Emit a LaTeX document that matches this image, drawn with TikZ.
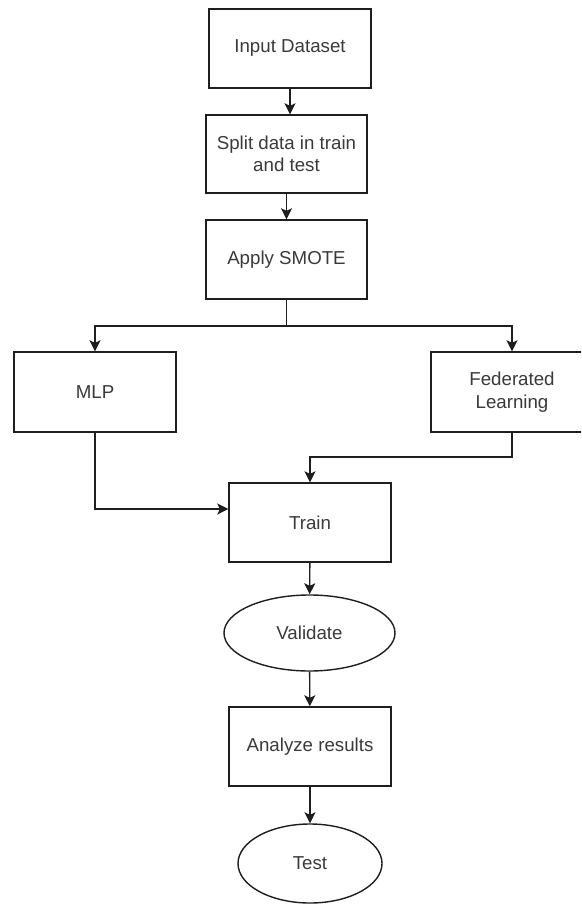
\documentclass[tikz,border=0pt]{standalone}
\usepackage{fontspec}
\setmainfont{Liberation Sans}
\usetikzlibrary{arrows.meta,shapes.geometric}
\definecolor{txt}{HTML}{3A3A3A}
\definecolor{ln}{HTML}{1E1E1E}
\begin{document}
\begin{tikzpicture}[x=1pt,y=-1pt,
  font=\fontsize{18.7}{22.5}\selectfont,
  box/.style={draw=ln,line width=1.4pt,rectangle,minimum width=162pt,minimum height=79pt,inner sep=0pt,text=txt,align=center,fill=white},
  oval/.style={draw=ln,line width=1.4pt,ellipse,inner sep=0pt,text=txt,fill=white},
  arr/.style={draw=ln,line width=1.4pt,-{Stealth[length=11pt,width=11pt,inset=2.5pt]}}]
\useasboundingbox (0,0) rectangle (581,904);
\clip (0,0) rectangle (581,904);
\fill[white] (0,0) rectangle (581,904);
\node[box] (in) at (290,48.5) {Input Dataset};
\node[box,minimum width=161pt,minimum height=78pt] (split) at (286.5,154) {Split data in train\\and test};
\node[box,minimum width=161pt] (smote) at (286.5,259.5) {Apply SMOTE};
\node[box,minimum height=80pt] (mlp) at (95,392) {MLP};
\node[box,minimum height=80pt] (fed) at (512,392) {Federated\\Learning};
\node[box] (train) at (310,522.5) {Train};
\node[oval,minimum width=171pt,minimum height=76pt] (val) at (309.5,633) {Validate};
\node[box] (ana) at (310,746.5) {Analyze results};
\node[oval,minimum width=144pt,minimum height=79pt] (test) at (310,863.5) {Test};
\coordinate (br) at (286.5,326);
\coordinate (fb) at (512,457);
\draw[arr] (in.south) -- (in.south |- split.north);
\draw[arr] (split) -- (smote);
\draw[draw=ln,line width=1.4pt] (smote.south) -- (br);
\draw[arr] (br) -| (mlp.north);
\draw[arr] (br) -| (fed.north);
\draw[arr] (mlp.south) |- ([yshift=13.5pt]train.west);
\draw[arr,line width=1.1pt] (fed.south) -- (fb) -| (train.north);
\draw[arr] (train) -- (val);
\draw[arr] (val) -- (ana);
\draw[arr] (ana) -- (test);
\end{tikzpicture}
\end{document}
